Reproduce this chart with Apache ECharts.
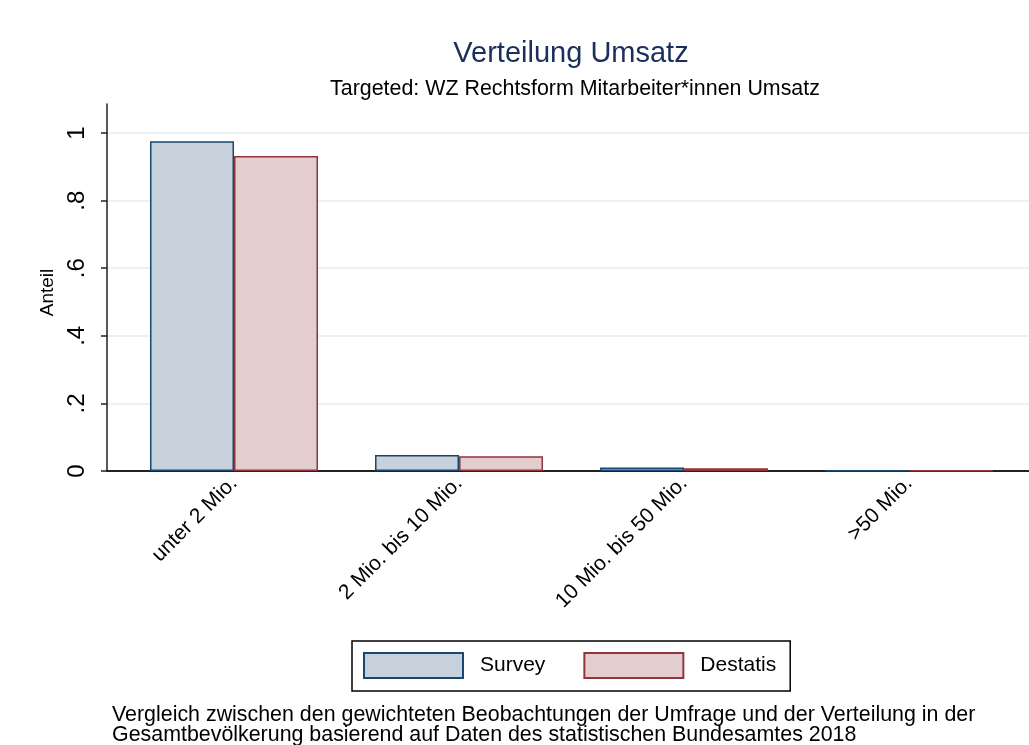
<!DOCTYPE html>
<html>
<head>
<meta charset="utf-8">
<script src="https://cdn.jsdelivr.net/npm/echarts@6/dist/echarts.min.js"></script>
<style>
  html, body { margin: 0; padding: 0; background: #fff; }
  #chart { width: 1029px; height: 745px; }
</style>
</head>
<body>
<div id="chart"></div>
<script>
const categories = ["unter 2 Mio.", "2 Mio. bis 10 Mio.", "10 Mio. bis 50 Mio.", ">50 Mio."];
const surveyValues = [0.976, 0.047, 0.01, 0.002];
const destatisValues = [0.932, 0.044, 0.008, 0.001];
const yTicks = [0, 0.2, 0.4, 0.6, 0.8, 1];

const chart = echarts.init(document.getElementById("chart"));

function yLabel(v) {
  if (v === 0) return "0";
  if (v === 1) return "1";
  return "." + Math.round(v * 10);
}

chart.setOption({
  backgroundColor: "#fff",
  textStyle: { fontFamily: "Liberation Sans, Arial, sans-serif" },
  title: [
    {
      text: "Verteilung Umsatz",
      left: 571,
      top: 39,
      padding: 0,
      textAlign: "center",
      textStyle: { fontSize: 29, fontWeight: "normal", color: "#1a2f5c" },
    },
    {
      text: "Targeted: WZ Rechtsform Mitarbeiter*innen Umsatz",
      left: 575,
      top: 79,
      padding: 0,
      textAlign: "center",
      textStyle: { fontSize: 21.4, fontWeight: "normal", color: "#000" },
    },
    {
      text: "Vergleich zwischen den gewichteten Beobachtungen der Umfrage und der Verteilung in der\nGesamtbevölkerung basierend auf Daten des statistischen Bundesamtes 2018",
      left: 112,
      top: 705,
      padding: 0,
      textStyle: { fontSize: 21.4, fontWeight: "normal", color: "#000", lineHeight: 20 },
    },
  ],
  legend: {
    left: 352,
    top: 641,
    orient: "horizontal",
    padding: [11, 14, 12, 11],
    borderColor: "#000",
    borderWidth: 1.5,
    borderRadius: 0,
    itemWidth: 99,
    itemHeight: 25,
    itemGap: 38,
    icon: "rect",
    textStyle: { fontSize: 21, color: "#000", padding: [0, 0, 0, 12] },
    data: ["Survey", "Destatis"],
  },
  grid: { left: 107, right: 0, top: 104, bottom: 274 },
  xAxis: {
    type: "value",
    min: -0.5644,
    max: 3.533,
    axisLine: { show: true, onZero: false, lineStyle: { color: "#222", width: 2 } },
    axisTick: { show: false },
    splitLine: { show: false },
    axisLabel: {
      customValues: [0, 1, 2, 3],
      formatter: (v) => categories[v],
      rotate: 45,
      fontSize: 21,
      color: "#000",
      margin: 9,
    },
  },
  yAxis: {
    type: "value",
    min: 0,
    max: 1.086,
    name: "Anteil",
    nameLocation: "middle",
    nameGap: 48,
    nameTextStyle: { fontSize: 19, color: "#000", padding: [0, 10, 0, 0] },
    axisLine: { show: true, onZero: false, lineStyle: { color: "#222", width: 1.5 } },
    axisTick: { show: true, length: 6, customValues: yTicks, lineStyle: { color: "#222", width: 1.5 } },
    axisLabel: {
      customValues: yTicks,
      formatter: yLabel,
      rotate: 90,
      fontSize: 24,
      color: "#000",
      margin: 18,
    },
    splitLine: { show: true, lineStyle: { color: "#eaf2f3", width: 2 } },
  },
  series: [
    {
      name: "Survey",
      type: "bar",
      barWidth: 84,
      barGap: "0%",
      data: surveyValues.map((v, i) => [i, v]),
      itemStyle: { color: "#c6d1db", borderColor: "#1a476f", borderWidth: 1.5 },
    },
    {
      name: "Destatis",
      type: "bar",
      barWidth: 84,
      barGap: "0%",
      data: destatisValues.map((v, i) => [i, v]),
      itemStyle: { color: "#e3cdce", borderColor: "#90353b", borderWidth: 1.5 },
    },
  ],
});

window.addEventListener("resize", () => chart.resize());
</script>
</body>
</html>
